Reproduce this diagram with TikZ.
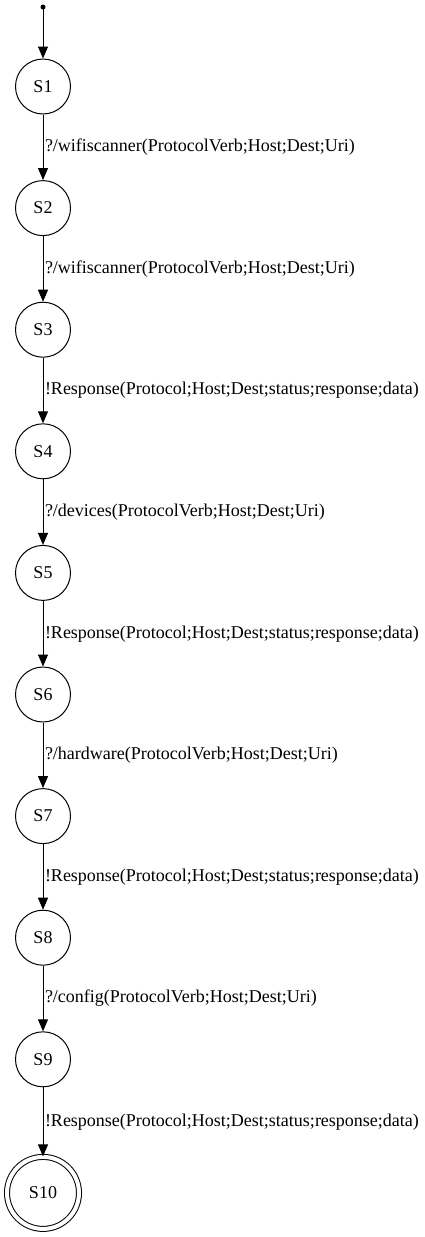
\documentclass[tikz,border=0pt]{standalone}
\usepackage{fontspec}
\setmainfont{Liberation Serif}
\usepackage{tikz}
\usetikzlibrary{shapes.geometric, arrows.meta}
\tikzstyle{state} = [circle, minimum size=55pt, inner sep=0pt, draw=black, line width=1pt, font=\fontsize{18}{20}\selectfont]
\tikzstyle{final} = [state, double, double distance=4pt, minimum size=72pt]
\tikzstyle{trans} = [anchor=west, inner sep=1.5pt, font=\fontsize{18}{20}\selectfont]
\tikzstyle{arrow} = [line width=1pt, -{Triangle[length=12pt,width=10pt]}]

\begin{document}
\begin{tikzpicture}[x=1pt, y=-1pt, node distance=121.6pt]
\useasboundingbox (0,0) rectangle (424,1237);

\fill (43,7) circle (2.5pt);
\coordinate (init) at (43,7);
\node (s1) [state] at (43,86.5) {S1};
\node (s2) [state, below of=s1] {S2};
\node (s3) [state, below of=s2] {S3};
\node (s4) [state, below of=s3] {S4};
\node (s5) [state, below of=s4] {S5};
\node (s6) [state, below of=s5] {S6};
\node (s7) [state, below of=s6] {S7};
\node (s8) [state, below of=s7] {S8};
\node (s9) [state, below of=s8] {S9};
\node (s10) [final, below of=s9, yshift=-12pt] {S10};

\draw [arrow] (init) -- (s1);
\draw [arrow] (s1) -- node[trans] {?/wifiscanner(ProtocolVerb;Host;Dest;Uri)} (s2);
\draw [arrow] (s2) -- node[trans] {?/wifiscanner(ProtocolVerb;Host;Dest;Uri)} (s3);
\draw [arrow] (s3) -- node[trans] {!Response(Protocol;Host;Dest;status;response;data)} (s4);
\draw [arrow] (s4) -- node[trans] {?/devices(ProtocolVerb;Host;Dest;Uri)} (s5);
\draw [arrow] (s5) -- node[trans] {!Response(Protocol;Host;Dest;status;response;data)} (s6);
\draw [arrow] (s6) -- node[trans] {?/hardware(ProtocolVerb;Host;Dest;Uri)} (s7);
\draw [arrow] (s7) -- node[trans] {!Response(Protocol;Host;Dest;status;response;data)} (s8);
\draw [arrow] (s8) -- node[trans] {?/config(ProtocolVerb;Host;Dest;Uri)} (s9);
\draw [arrow] (s9) -- node[trans] {!Response(Protocol;Host;Dest;status;response;data)} (s10);
\end{tikzpicture}
\end{document}
